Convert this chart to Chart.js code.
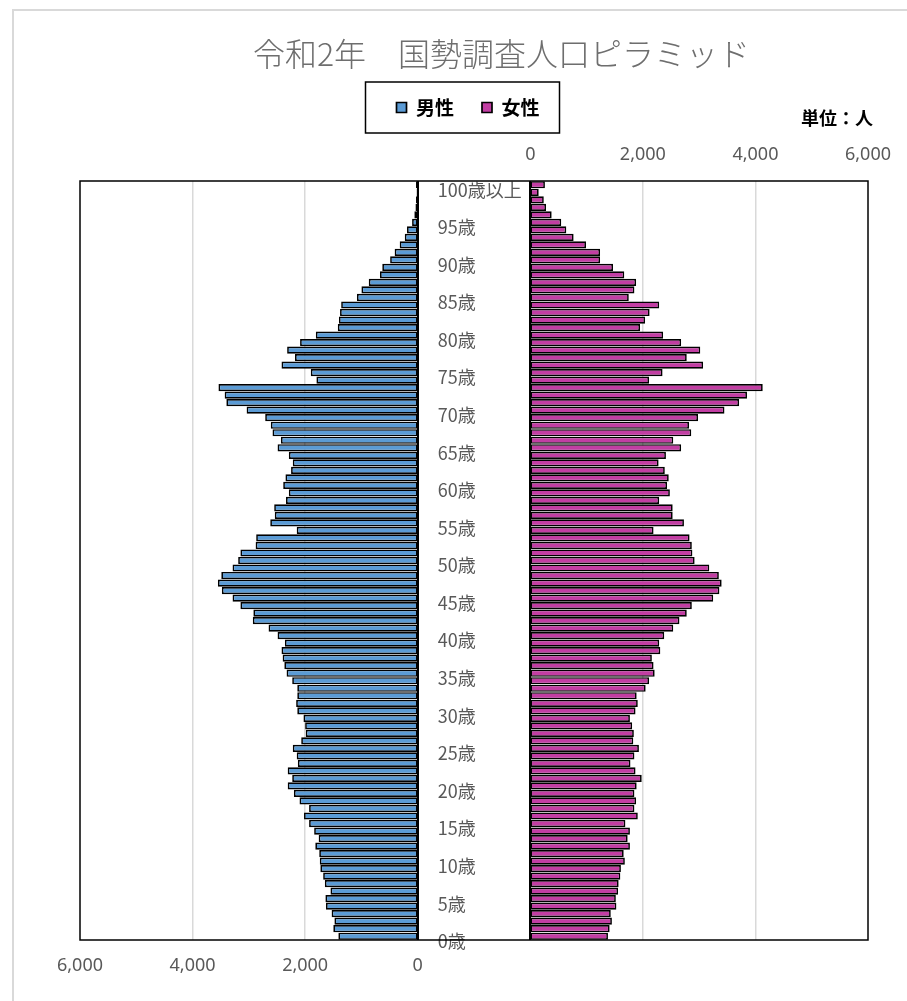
<!DOCTYPE html>
<html lang="ja">
<head>
<meta charset="utf-8">
<title>令和2年 国勢調査人口ピラミッド</title>
<script src="https://cdn.jsdelivr.net/npm/chart.js@4.4.1/dist/chart.umd.min.js"></script>
<style>
  body { margin: 0; background: #fff; }
  #wrap { position: relative; width: 907px; height: 1001px; overflow: hidden; }
  #marco { position: absolute; left: 12px; top: 9px; width: 1000px; height: 1100px; border-left: 2px solid #d9d9d9; border-top: 2px solid #d9d9d9; }
  #titulo { position: absolute; left: 253px; top: 36px; font-family: 'Noto Sans CJK JP', sans-serif; font-size: 32px; line-height: 32px; font-weight: 300; color: #6e6e6e; white-space: nowrap; }
  #unidad { position: absolute; left: 801px; top: 106px; font-family: 'Noto Sans CJK JP', sans-serif; font-size: 18px; line-height: 22px; font-weight: bold; color: #000; white-space: nowrap; }
  canvas { position: absolute; left: 0; top: 0; }
</style>
</head>
<body>
<div id="wrap">
  <div id="marco"></div>
  <canvas id="piramide" width="907" height="1001"></canvas>
  <div id="titulo">令和2年　国勢調査人口ピラミッド</div>
  <div id="unidad">単位：人</div>
</div>
<script>
// 年齢（0歳〜100歳以上）
const ageLabels = Array.from({ length: 101 }, (_, i) => i === 100 ? '100歳以上' : i + '歳');

// 男性の人口（0歳から順に）
const men = [
  1410, 1500, 1480, 1530, 1630, 1640, 1550, 1650, 1680, 1730,
  1740, 1750, 1820, 1760, 1840, 1930, 2020, 1930, 2100, 2200,
  2310, 2230, 2310, 2130, 2150, 2220, 2070, 1990, 2000, 2030,
  2140, 2160, 2140, 2140, 2230, 2330, 2370, 2400, 2420, 2360,
  2490, 2650, 2930, 2920, 3150, 3290, 3480, 3550, 3490, 3290,
  3190, 3150, 2880, 2870, 2150, 2620, 2540, 2550, 2340, 2290,
  2390, 2350, 2250, 2220, 2290, 2490, 2430, 2580, 2610, 2710,
  3040, 3400, 3430, 3540, 1800, 1900, 2420, 2180, 2320, 2090,
  1810, 1420, 1400, 1380, 1360, 1080, 1000, 870, 670, 630,
  490, 410, 320, 230, 190, 100, 60, 40, 30, 20,
  30
];

// 女性の人口（0歳から順に）
const women = [
  1380, 1410, 1450, 1430, 1530, 1520, 1560, 1570, 1600, 1610,
  1680, 1660, 1770, 1730, 1770, 1690, 1910, 1850, 1880, 1850,
  1890, 1980, 1870, 1780, 1850, 1930, 1830, 1840, 1810, 1770,
  1870, 1910, 1890, 2050, 2110, 2210, 2190, 2160, 2310, 2290,
  2380, 2540, 2650, 2780, 2870, 3250, 3360, 3400, 3350, 3180,
  2920, 2880, 2870, 2830, 2190, 2730, 2530, 2530, 2290, 2480,
  2430, 2460, 2390, 2280, 2410, 2680, 2540, 2860, 2820, 2980,
  3450, 3710, 3850, 4130, 2110, 2350, 3070, 2780, 3020, 2680,
  2360, 1950, 2040, 2120, 2290, 1750, 1850, 1880, 1670, 1470,
  1240, 1240, 990, 770, 640, 550, 380, 280, 240, 150,
  260
];

// 目盛り（人）
const xTickLabels = [0, 2000, 4000, 6000];

// 中央の年齢欄は 2,000 人分の幅。その半分だけ左右にずらす
const HALF = 1000;
const XMAX = xTickLabels[xTickLabels.length - 1];

const gris = '#595959';
const fuenteNum = "'Noto Sans', 'Noto Sans CJK JP', sans-serif";
const fuenteJp = "'Noto Sans CJK JP', 'Noto Sans', sans-serif";

function colorGrid(c) {
  if (!c.tick) return 'rgba(0,0,0,0)';
  const v = Math.abs(c.tick.value) - HALF;
  return (v > 0 && v < XMAX) ? '#d9d9d9' : 'rgba(0,0,0,0)';
}

// 年齢ラベル（5歳ごと）と枠線
const marcoPlugin = {
  id: 'marco',
  beforeDatasetsDraw(chart) {
    const ctx = chart.ctx;
    const y = chart.scales.y;
    const xLeft = chart.scales.x.getPixelForValue(-HALF);
    ctx.save();
    ctx.font = '18px ' + fuenteJp;
    ctx.fillStyle = gris;
    ctx.textAlign = 'left';
    ctx.textBaseline = 'middle';
    ageLabels.forEach((lab, i) => {
      if (i % 5 !== 0) return;
      ctx.fillText(lab, xLeft + 20, y.getPixelForValue(i) + 5);
    });
    ctx.restore();
  },
  afterDatasetsDraw(chart) {
    const ctx = chart.ctx;
    const a = chart.chartArea;
    const x = chart.scales.x;
    ctx.save();
    ctx.strokeStyle = '#000';
    ctx.lineWidth = 1.5;
    ctx.strokeRect(a.left, a.top, a.right - a.left, a.bottom - a.top);
    ctx.lineWidth = 2;
    [-HALF, HALF].forEach(v => {
      const px = Math.round(x.getPixelForValue(v));
      ctx.beginPath();
      ctx.moveTo(px, a.top);
      ctx.lineTo(px, a.bottom);
      ctx.stroke();
    });
    ctx.restore();
  },
  afterDraw(chart) {
    // 凡例の囲み
    const hb = chart.legend.legendHitBoxes;
    if (!hb || !hb.length) return;
    const ctx = chart.ctx;
    const last = hb[hb.length - 1];
    const x0 = hb[0].left - 31;
    const x1 = last.left + last.width + 20;
    const yc = hb[0].top + hb[0].height / 2;
    ctx.save();
    ctx.strokeStyle = '#000';
    ctx.lineWidth = 1.5;
    ctx.strokeRect(x0, yc - 25.5, x1 - x0, 51);
    ctx.restore();
  }
};

new Chart(document.getElementById('piramide'), {
  type: 'bar',
  data: {
    labels: ageLabels,
    datasets: [
      {
        label: '男性',
        data: men.map(v => [-HALF - v, -HALF]),
        backgroundColor: '#5b9bd5',
        borderColor: '#000',
        borderWidth: 1.7,
        borderSkipped: false
      },
      {
        label: '女性',
        data: women.map(v => [HALF, HALF + v]),
        backgroundColor: '#c23ea3',
        borderColor: '#000',
        borderWidth: 1.7,
        borderSkipped: false
      }
    ]
  },
  options: {
    responsive: false,
    animation: false,
    devicePixelRatio: 1,
    indexAxis: 'y',
    grouped: false,
    categoryPercentage: 0.96,
    barPercentage: 1.0,
    layout: { padding: { left: 68, right: 39, top: 70, bottom: 11 } },
    plugins: {
      tooltip: { enabled: false },
      title: { display: false },
      legend: {
        position: 'top',
        labels: {
          boxWidth: 10,
          boxHeight: 10,
          padding: 28,
          color: '#000',
          font: { family: fuenteJp, size: 19, weight: 'bold' }
        }
      }
    },
    scales: {
      y: {
        type: 'category',
        reverse: true,
        offset: true,
        grid: { display: false },
        border: { display: false },
        ticks: { display: false },
        afterFit: s => { s.width = 12; }
      },
      x: {
        type: 'linear',
        position: 'bottom',
        min: -HALF - XMAX,
        max: HALF + XMAX,
        afterBuildTicks: s => { s.ticks = xTickLabels.map(t => ({ value: -HALF - t })); },
        ticks: {
          autoSkip: false,
          maxRotation: 0,
          padding: 15,
          color: gris,
          font: { family: fuenteNum, size: 18 },
          callback: v => (Math.abs(v) - HALF).toLocaleString('en-US')
        },
        grid: { color: colorGrid, lineWidth: 1.5, drawTicks: false },
        border: { display: false },
        afterFit: s => { s.height = 50; }
      },
      x2: {
        type: 'linear',
        position: 'top',
        min: -HALF - XMAX,
        max: HALF + XMAX,
        afterBuildTicks: s => { s.ticks = xTickLabels.map(t => ({ value: HALF + t })); },
        ticks: {
          autoSkip: false,
          maxRotation: 0,
          padding: 15,
          color: gris,
          font: { family: fuenteNum, size: 18 },
          callback: v => (Math.abs(v) - HALF).toLocaleString('en-US')
        },
        grid: { color: colorGrid, lineWidth: 1.5, drawTicks: false },
        border: { display: false },
        afterFit: s => { s.height = 54; }
      }
    }
  },
  plugins: [marcoPlugin]
});
</script>
</body>
</html>
